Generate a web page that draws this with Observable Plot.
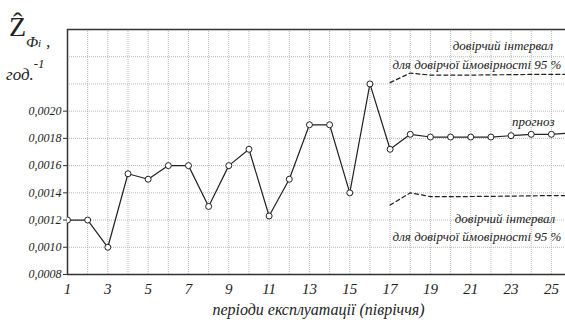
<!DOCTYPE html>
<html>
<head>
<meta charset="utf-8">
<script src="https://cdn.jsdelivr.net/npm/d3@7"></script>
<script src="https://cdn.jsdelivr.net/npm/@observablehq/plot@0.6"></script>
<style>
  html, body { margin: 0; padding: 0; background: #fff; overflow: hidden; }
  #chart svg { display: block; font-family: "Liberation Serif", "Times New Roman", serif !important; }
  #chart svg text { font-family: "Liberation Serif", "Times New Roman", serif; }
</style>
</head>
<body>
<div id="chart"></div>
<script>
// periods (half-years)
const periods = [1,2,3,4,5,6,7,8,9,10,11,12,13,14,15,16,17,18,19,20,21,22,23,24,25,26];
// Ẑ values (observed 1..17, forecast 17..26)
const values = [0.0012,0.0012,0.0010,0.00154,0.0015,0.0016,0.0016,0.0013,0.0016,0.00172,
                0.00123,0.0015,0.0019,0.0019,0.0014,0.0022,0.00172,0.00183,0.00181,0.00181,
                0.00181,0.00181,0.00182,0.00183,0.00183,0.00184];
// confidence interval (95 %) for forecast periods
const ciPeriods = [17,18,19,20,21,22,23,24,25,26];
const ciUpper = [0.00221,0.00228,0.002265,0.002265,0.002265,0.002267,0.002268,0.00227,0.00227,0.00227];
const ciLower = [0.00131,0.00140,0.001372,0.001372,0.001373,0.001374,0.001376,0.001378,0.00138,0.00138];
// axis ticks
const xTickLabels = [1,3,5,7,9,11,13,15,17,19,21,23,25];
const xGrid = d3.range(1, 27);
const yTickLabels = [0.0008,0.0010,0.0012,0.0014,0.0016,0.0018,0.0020];
const yGrid = [0.0008,0.0010,0.0012,0.0014,0.0016,0.0018,0.0020,0.0022,0.0024,0.0026];

const series = periods.map((p, i) => ({x: p, y: values[i]}));
const upper = ciPeriods.map((p, i) => ({x: p, y: ciUpper[i]}));
const lower = ciPeriods.map((p, i) => ({x: p, y: ciLower[i]}));

const fmt = d => d.toFixed(4).replace(".", ",");

const plot = Plot.plot({
  width: 565,
  height: 324,
  marginLeft: 67,
  marginTop: 29,
  marginBottom: 50,
  marginRight: 0,
  x: {domain: [1, 25.7], label: null},
  y: {domain: [0.0008, 0.0026], label: null},
  style: {background: "#fff", color: "#222"},
  marks: [
    Plot.gridX(xGrid, {stroke: "#b8b8b8", strokeOpacity: 1, strokeDasharray: "1,1"}),
    Plot.gridY(yGrid, {stroke: "#b8b8b8", strokeOpacity: 1, strokeDasharray: "1,1"}),
    Plot.ruleX([1], {stroke: "#333", strokeWidth: 1.5}),
    Plot.ruleY([0.0008, 0.0026], {stroke: "#333", strokeWidth: 1.5}),
    Plot.line(upper, {x: "x", y: "y", stroke: "#222", strokeWidth: 1.2, strokeDasharray: "4,3", clip: true}),
    Plot.line(lower, {x: "x", y: "y", stroke: "#222", strokeWidth: 1.2, strokeDasharray: "4,3", clip: true}),
    Plot.line(series, {x: "x", y: "y", stroke: "#222", strokeWidth: 1.2, clip: true}),
    Plot.dot(series, {x: "x", y: "y", r: 3, fill: "#fff", stroke: "#222", strokeWidth: 1, clip: true}),
    Plot.axisX(xTickLabels, {tickSize: 0, tickPadding: 9, fontSize: 15, fontStyle: "italic", tickFormat: d => String(d), fill: "#222", label: null}),
    Plot.axisY(yTickLabels, {tickSize: 4, tickPadding: 2, fontSize: 12, fontStyle: "italic", tickFormat: fmt, fill: "#222", stroke: "#333", label: null}),
    Plot.text(["періоди експлуатації (півріччя)"], {frameAnchor: "bottom", dy: 40, dx: 2, fontSize: 16, fontStyle: "italic", fill: "#222"}),
    Plot.text(["довірчий інтервал"], {x: 22.6, y: 0.00248, fontSize: 13, fontStyle: "italic", fill: "#222"}),
    Plot.text(["для довірчої ймовірності 95 %"], {x: 25.5, y: 0.00234, textAnchor: "end", fontSize: 13, fontStyle: "italic", fill: "#222"}),
    Plot.text(["прогноз"], {x: 24.1, y: 0.001925, fontSize: 13, fontStyle: "italic", fill: "#222"}),
    Plot.text(["довірчий інтервал"], {x: 22.7, y: 0.00121, fontSize: 13, fontStyle: "italic", fill: "#222"}),
    Plot.text(["для довірчої ймовірності 95 %"], {x: 25.5, y: 0.00108, textAnchor: "end", fontSize: 13, fontStyle: "italic", fill: "#222"})
  ]
});

const svg = d3.select(plot);
const lbl = svg.append("g").attr("fill", "#222").attr("text-anchor", "start");
lbl.append("text").attr("x", 9).attr("y", 36).attr("font-size", 28).attr("font-style", "normal").text("Ẑ");
const sub = lbl.append("text").attr("x", 26).attr("y", 47).attr("font-size", 15).attr("font-style", "italic");
sub.append("tspan").text("Ф");
sub.append("tspan").attr("font-size", 11).text("i");
sub.append("tspan").attr("dx", 5).attr("font-size", 16).text(",");
const god = lbl.append("text").attr("x", 6).attr("y", 80).attr("font-size", 17).attr("font-style", "italic");
god.append("tspan").text("год.");
god.append("tspan").attr("dy", -12).attr("font-size", 13).text("-1");

document.getElementById("chart").appendChild(plot);
</script>
</body>
</html>
